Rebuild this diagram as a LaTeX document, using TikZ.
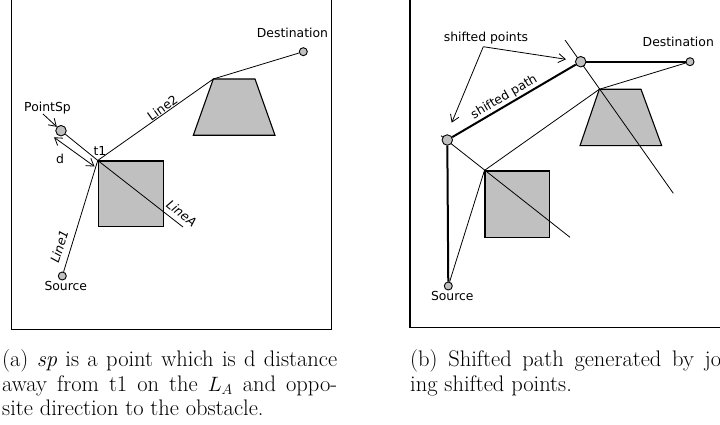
\documentclass[tikz,border=0pt]{standalone}
\usepackage{fontspec}
\newfontfamily\lbl{DejaVu Sans}
\usetikzlibrary{arrows.meta}
\definecolor{obgray}{RGB}{192,192,192}
\begin{document}
\begin{tikzpicture}[x=1pt,y=-1pt,
  lab/.style={font=\lbl\fontsize{12.4}{14}\selectfont, inner sep=0pt},
  ilab/.style={font=\lbl\itshape\fontsize{12.4}{14}\selectfont, inner sep=0pt},
  captext/.style={font=\fontsize{22.5}{24}\selectfont, inner sep=0pt, anchor=base west},
  ln/.style={line width=0.8pt},
  bold/.style={line width=2pt},
  obst/.style={draw, fill=obgray, line width=1.1pt},
  pt/.style={circle, draw, fill=obgray, line width=0.9pt, inner sep=0pt, minimum size=8pt},
  bigpt/.style={pt, minimum size=10.5pt},
  tip/.style={-{Straight Barb[length=7pt,width=9pt]}},
  dtip/.style={{Straight Barb[length=7pt,width=9pt]}-{Straight Barb[length=7pt,width=9pt]}},
  frame/.style={line width=1.4pt}]
\useasboundingbox (0,0) rectangle (720,425);

% ---------- panel (a) ----------
\draw[frame] (11.7,-5) -- (11.7,329.3) -- (331.7,329.3) -- (331.7,-5);
\node[obst, minimum width=65pt, minimum height=65.7pt, inner sep=0pt] (sqA) at (130.8,193.85) {};
\draw[obst] (213.3,79) coordinate (trA) -- (255,79) -- (275,135.3) -- (193.3,135.3) -- cycle;
\node[pt] (srcA) at (62.3,276) {};
\node[pt] (dstA) at (303.3,51.7) {};
\node[bigpt] (spA) at (61,130.7) {};
\coordinate (laEnd) at (183,227);
\coordinate (psTail) at (43,114);
\coordinate (dA) at (54,137.3);
\coordinate (dB) at (94.5,166.5);

\draw[ln] (srcA) -- (sqA.north west);
\draw[ln] (sqA.north west) -- (trA);
\draw[ln] (trA) -- (dstA);
\draw[ln] (sqA.north west) -- (laEnd);
\draw[ln] (spA) -- (sqA.north west);
\draw[ln,dtip] (dA) -- (dB);
\draw[ln,tip] (psTail) -- (spA);

\node[lab, anchor=base] (tDstA) at (292.5,37.3) {Destination};
\node[lab, anchor=base] (tSp) at (47.5,111.7) {PointSp};
\node[lab, anchor=base] (tT1) at (100,155) {t1};
\node[lab, anchor=base] (tD) at (60,163.3) {d};
\node[lab, anchor=base] (tSrcA) at (65.8,290.7) {Source};
\node[lab, rotate=35.5] (tL2) at (162.5,107.5) {Line2};
\node[ilab, rotate=-38] (tLA) at (181.7,213.3) {LineA};
\node[ilab, rotate=72.6] (tL1) at (59.3,246.5) {Line1};

% ---------- panel (b) ----------
\draw[frame] (410,-5) -- (410,327.3) -- (725,327.3);
\node[obst, minimum width=64.3pt, minimum height=66.3pt, inner sep=0pt] (sqB) at (517.15,204.15) {};
\draw[obst] (599.3,89.3) coordinate (trB) -- (641,89.3) -- (661.7,145.7) -- (580,145.7) -- cycle;
\coordinate (l1s) at (441,135.7);
\coordinate (l1e) at (570,237.3);
\coordinate (l2s) at (565,40);
\coordinate (l2e) at (673.3,193.3);
\draw[ln] (l1s) -- (l1e);
\draw[ln] (l2s) -- (l2e);
\node[pt] (srcB) at (448.3,286) {};
\node[pt] (dstB) at (690,61.7) {};
\node[bigpt] (sp1) at (447.3,140) {};
\node[bigpt] (sp2) at (580.7,61.7) {};
\coordinate (arT) at (483.3,46.7);
\coordinate (arE1) at (566,59.3);
\coordinate (arE2) at (451.7,122.7);

\draw[ln] (srcB) -- (sqB.north west);
\draw[ln] (sqB.north west) -- (trB);
\draw[ln] (trB) -- (dstB);
\draw[bold] (srcB) -- (sp1);
\draw[bold] (sp1) -- (sp2);
\draw[bold] (sp2) -- (dstB);
\draw[ln,tip] (arT) -- (arE1);
\draw[ln,tip] (arT) -- (arE2);

\node[lab, anchor=base] (tDstB) at (678.3,46.7) {Destination};
\node[lab, anchor=base] (tShP) at (486,41.7) {shifted points};
\node[lab, anchor=base] (tSrcB) at (452.3,300.5) {Source};
\node[lab, rotate=30.4] (tShPath) at (504.2,97.3) {shifted path};

% ---------- captions ----------
\node[captext] (capA1) at (2,366.5) {\makebox[335pt][s]{(a) \textit{sp} is a point which is d distance}};
\node[captext] (capA2) at (2,391) {\makebox[335pt][s]{away from t1 on the $L_A$ and oppo-}};
\node[captext] (capA3) at (2,415) {site direction to the obstacle.};
\node[captext] (capB1) at (410,366.5) {\makebox[335pt][s]{(b) Shifted path generated by join-}};
\node[captext] (capB2) at (410,391) {ing shifted points.};
\end{tikzpicture}
\end{document}
